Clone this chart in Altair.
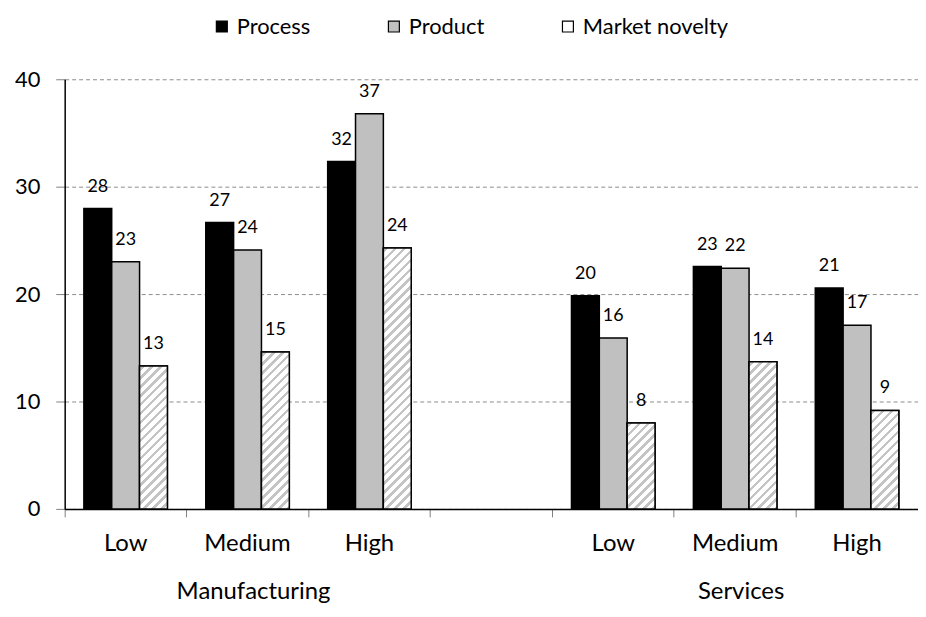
import altair as alt
import pandas as pd

# ---- data ----
sectors = ["Manufacturing", "Manufacturing", "Manufacturing", "Services", "Services", "Services"]
levels = ["Low", "Medium", "High", "Low", "Medium", "High"]
series_names = ["Process", "Product", "Market novelty"]
process = [27.96, 26.67, 32.35, 19.85, 22.56, 20.56]
product = [23.0, 24.1, 36.8, 15.9, 22.4, 17.1]
market = [13.3, 14.6, 24.3, 8.0, 13.7, 9.17]
series_colors = ["#000000", "#c0c0c0", "#ffffff"]
y_ticks = [0, 10, 20, 30, 40]
group_names = ["Manufacturing", "Services"]
group_mid = ["Manufacturing|Medium", "Services|Medium"]

# ---- layout ----
W, H = 858, 432
BW = 28.0  # bar width in px
band = W / 7
po = (band / BW - 3) / 2

slot_ids = [f"{s}|{l}" for s, l in zip(sectors, levels)]
slots = slot_ids[:3] + ["gap"] + slot_ids[3:]

rows = []
for i in range(6):
    for name, vals in zip(series_names, [process, product, market]):
        rows.append({"slot": slot_ids[i], "series": name, "value": vals[i]})
df = pd.DataFrame(rows)
gdf = pd.DataFrame({"slot": group_mid, "name": group_names})

x_scale = alt.Scale(domain=slots, paddingInner=0, paddingOuter=0)

x_ticks = alt.X("slot:N", scale=x_scale, axis=alt.Axis(
    orient="bottom", bandPosition=0, labels=False, ticks=True, tickSize=8,
    tickColor="#808080", tickWidth=1, domain=True, domainColor="black",
    domainWidth=1.5, grid=False, title=None))
x_labels = alt.X("slot:N", scale=x_scale, axis=alt.Axis(
    orient="bottom", ticks=False, tickSize=0, domain=False, grid=False, title=None,
    labelExpr="datum.value == 'gap' ? '' : split(datum.value, '|')[1]",
    labelFontSize=24, labelPadding=23, labelColor="black", labelAngle=0,
    labelOverlap=False))
x_none = alt.X("slot:N", scale=x_scale, axis=None)

y_enc = alt.Y("value:Q", scale=alt.Scale(domain=[0, 40], nice=False), axis=alt.Axis(
    values=y_ticks, title=None, grid=True, gridColor="#8c8c8c", gridDash=[4, 3],
    gridWidth=1, domain=True, domainColor="black", domainWidth=1.5, ticks=True,
    tickSize=9, tickColor="#808080", labelFontSize=22, labelPadding=16,
    labelColor="black", format="d"))

xoff = alt.XOffset("series:N", scale=alt.Scale(domain=series_names, paddingInner=0, paddingOuter=po))

color = alt.Color("series:N", scale=alt.Scale(domain=series_names, range=series_colors),
                  legend=alt.Legend(title=None, orient="none", legendX=147, legendY=-64,
                                    direction="horizontal", symbolType="square", symbolSize=121,
                                    symbolStrokeColor="black", symbolStrokeWidth=1.2,
                                    labelFontSize=22, labelColor="black", labelOffset=4,
                                    columnPadding=72, padding=0, labelLimit=300))

base = alt.Chart(df).mark_bar(stroke="black", strokeWidth=1.5).encode(
    x=x_ticks, xOffset=xoff, y=y_enc, color=color)


def hatch(w, h, p=9.0, g=3.6, col="#c4c4c4"):
    L = w + h
    stops = [{"offset": 0, "color": "#ffffff"}]
    s = 2.0
    while s < L:
        a = s / L
        b = min((s + g) / L, 1.0)
        stops += [{"offset": a, "color": "#ffffff"}, {"offset": a, "color": col},
                  {"offset": b, "color": col}, {"offset": b, "color": "#ffffff"}]
        s += p
    stops.append({"offset": 1, "color": "#ffffff"})
    t = L / (w * w + h * h)
    return {"gradient": "linear", "x1": 0, "y1": 0, "x2": w * t, "y2": h * t, "stops": stops}


hatch_layers = []
for i in range(6):
    h = market[i] / 40 * H
    layer = alt.Chart(df).transform_filter(
        (alt.datum.series == "Market novelty") & (alt.datum.slot == slot_ids[i])
    ).mark_bar(fill=hatch(BW, h), stroke="black", strokeWidth=1.5).encode(
        x=x_none, xOffset=xoff, y=y_enc)
    hatch_layers.append(layer)

labels = alt.Chart(df).mark_text(baseline="alphabetic", dy=-17, fontSize=18, color="black").encode(
    x=x_labels, xOffset=xoff, y=y_enc, text=alt.Text("value:Q", format=".0f"))

groups = alt.Chart(gdf).mark_text(baseline="alphabetic", fontSize=24, color="black", dx=6).encode(
    x=x_none, y=alt.value(523), text="name:N")

chart = alt.layer(base, *hatch_layers, labels, groups).resolve_axis(x="independent").properties(
    width=W, height=H, autosize=alt.AutoSizeParams(type="none"),
    padding={"left": 57, "top": 70, "right": 0, "bottom": 99}
).configure(font="Lato").configure_view(stroke="transparent")

chart.save("out.html", embed_options={"renderer": "svg", "actions": False})
